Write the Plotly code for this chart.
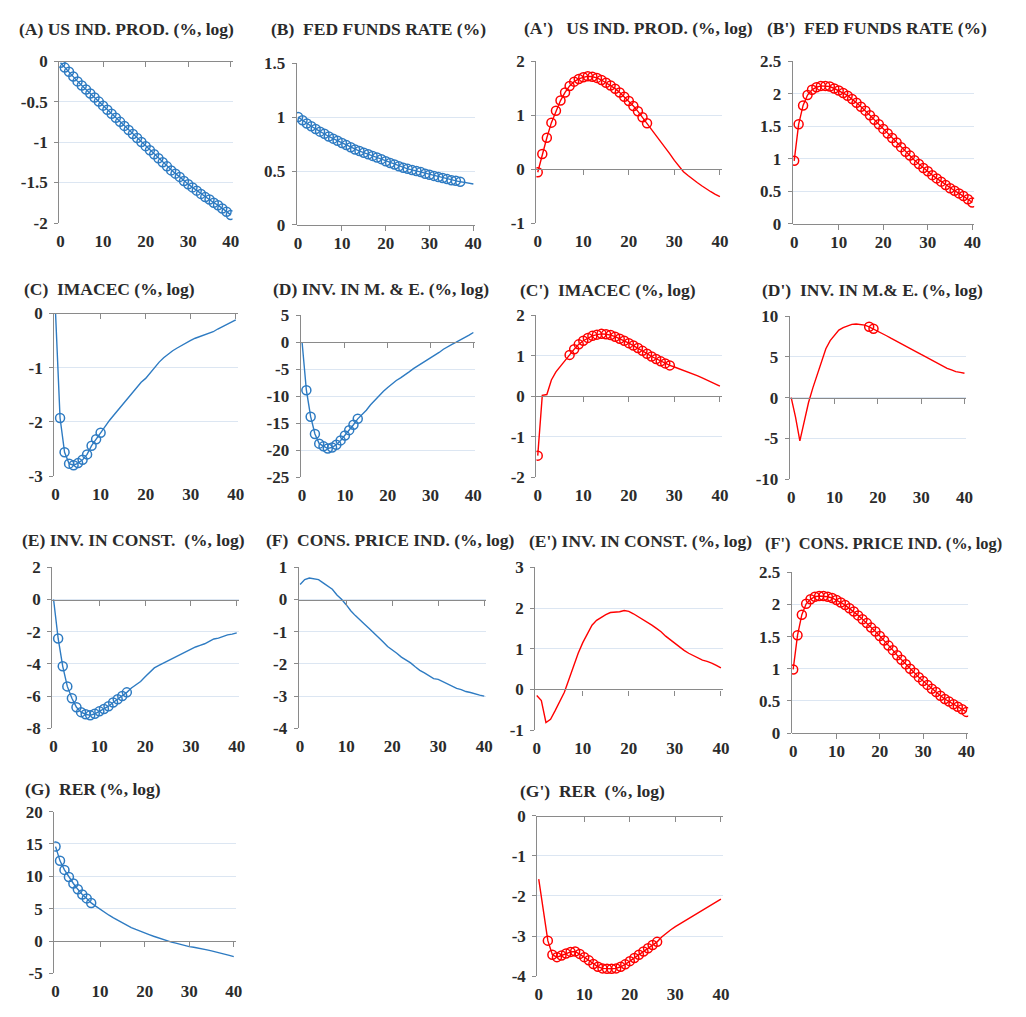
import plotly.graph_objects as go

# ---------------- data ----------------
horizon = list(range(41))
x_ticks = [0, 10, 20, 30, 40]

# (A) US industrial production (blue)
us_ip_blue = [-0.02, -0.08, -0.13, -0.19, -0.25, -0.30, -0.35, -0.40, -0.45, -0.50,
              -0.55, -0.60, -0.65, -0.70, -0.75, -0.80, -0.85, -0.90, -0.95, -1.00,
              -1.05, -1.10, -1.15, -1.20, -1.25, -1.30, -1.35, -1.39, -1.43, -1.48,
              -1.52, -1.56, -1.60, -1.64, -1.68, -1.71, -1.75, -1.78, -1.82, -1.86, -1.90]
us_ip_blue_sig = list(range(0, 41))
us_ip_blue_yticks = [0, -0.5, -1, -1.5, -2]

# (B) Fed funds rate (blue)
ffr_blue = [1.00, 0.97, 0.94, 0.915, 0.89, 0.865, 0.845, 0.82, 0.80, 0.78,
            0.76, 0.74, 0.72, 0.70, 0.685, 0.67, 0.655, 0.64, 0.625, 0.61,
            0.59, 0.575, 0.56, 0.545, 0.53, 0.52, 0.51, 0.50, 0.49, 0.475,
            0.465, 0.455, 0.445, 0.435, 0.425, 0.415, 0.41, 0.40, 0.395, 0.39, 0.38]
ffr_blue_sig = list(range(0, 38))
ffr_blue_yticks = [0, 0.5, 1, 1.5]

# (A') US industrial production (red)
us_ip_red = [-0.06, 0.28, 0.58, 0.86, 1.08, 1.27, 1.42, 1.54, 1.62, 1.67,
             1.70, 1.72, 1.71, 1.69, 1.65, 1.60, 1.55, 1.49, 1.42, 1.34,
             1.26, 1.17, 1.07, 0.96, 0.85, 0.74, 0.63, 0.52, 0.40, 0.28,
             0.16, 0.05, -0.05, -0.12, -0.19, -0.25, -0.31, -0.37, -0.42, -0.47, -0.51]
us_ip_red_sig = list(range(0, 25))
us_ip_red_yticks = [-1, 0, 1, 2]

# (B') Fed funds rate (red)
ffr_red = [0.97, 1.53, 1.82, 1.98, 2.06, 2.10, 2.12, 2.12, 2.11, 2.08,
           2.05, 2.01, 1.97, 1.92, 1.86, 1.80, 1.74, 1.67, 1.60, 1.53,
           1.46, 1.39, 1.32, 1.25, 1.18, 1.11, 1.05, 0.98, 0.92, 0.86,
           0.81, 0.75, 0.70, 0.65, 0.60, 0.55, 0.51, 0.47, 0.43, 0.38, 0.33]
ffr_red_sig = list(range(0, 41))
ffr_red_yticks = [0, 0.5, 1, 1.5, 2, 2.5]

# (C) IMACEC (blue)
imacec_blue = [0.0, -1.93, -2.56, -2.77, -2.80, -2.76, -2.70, -2.60, -2.44, -2.32,
               -2.20, -2.08, -1.97, -1.87, -1.77, -1.67, -1.57, -1.45, -1.35, -1.27,
               -1.20, -1.10, -0.99, -0.90, -0.82, -0.75, -0.69, -0.64, -0.59, -0.54,
               -0.50, -0.46, -0.43, -0.40, -0.37, -0.34, -0.29, -0.25, -0.21, -0.17, -0.12]
imacec_blue_sig = list(range(1, 11))
imacec_blue_yticks = [0, -1, -2, -3]

# (D) Investment in machinery & equipment (blue)
inv_me_blue = [0.0, -8.9, -13.8, -17.0, -18.8, -19.3, -19.7, -19.5, -19.0, -18.2,
               -17.3, -16.3, -15.3, -14.2, -13.4, -12.6, -11.6, -10.7, -9.9, -9.1,
               -8.4, -7.7, -7.1, -6.6, -6.1, -5.5, -4.9, -4.4, -3.9, -3.4,
               -3.0, -2.5, -1.9, -1.3, -0.8, -0.4, 0.0, 0.4, 0.8, 1.3, 1.8]
inv_me_blue_sig = list(range(1, 14))
inv_me_blue_yticks = [5, 0, -5, -10, -15, -20, -25]

# (C') IMACEC (red)
imacec_red = [-1.47, 0.02, 0.04, 0.40, 0.60, 0.75, 0.88, 1.02, 1.16, 1.28,
              1.37, 1.44, 1.49, 1.52, 1.54, 1.53, 1.51, 1.47, 1.42, 1.37,
              1.31, 1.25, 1.19, 1.12, 1.05, 0.98, 0.92, 0.86, 0.81, 0.76,
              0.72, 0.68, 0.64, 0.60, 0.56, 0.51, 0.46, 0.41, 0.36, 0.31, 0.25]
imacec_red_sig = [0] + list(range(7, 30))
imacec_red_yticks = [-2, -1, 0, 1, 2]

# (D') Investment in machinery & equipment (red)
inv_me_red = [0.0, -2.4, -5.3, -2.9, -0.6, 1.2, 2.9, 4.5, 6.0, 7.0,
              7.7, 8.3, 8.6, 8.85, 9.0, 9.05, 9.0, 8.9, 8.7, 8.45,
              8.2, 7.9, 7.6, 7.3, 7.0, 6.8, 6.5, 6.2, 5.9, 5.6,
              5.3, 5.0, 4.7, 4.4, 4.1, 3.8, 3.6, 3.4, 3.2, 3.1, 3.0]
inv_me_red_sig = [18, 19]
inv_me_red_yticks = [-10, -5, 0, 5, 10]

# (E) Investment in construction (blue)
inv_con_blue = [0.0, -2.42, -4.15, -5.4, -6.14, -6.7, -7.0, -7.13, -7.2, -7.1,
                -6.95, -6.8, -6.63, -6.4, -6.2, -6.0, -5.77, -5.5, -5.3, -5.1,
                -4.8, -4.5, -4.25, -4.1, -3.95, -3.85, -3.7, -3.55, -3.35, -3.2,
                -3.1, -2.95, -2.85, -2.75, -2.6, -2.45, -2.4, -2.3, -2.2, -2.15, -2.07]
inv_con_blue_sig = list(range(1, 17))
inv_con_blue_yticks = [2, 0, -2, -4, -6, -8]

# (F) Consumer price index (blue)
cpi_blue = [0.47, 0.62, 0.67, 0.64, 0.62, 0.52, 0.42, 0.32, 0.14, 0.01,
            -0.16, -0.35, -0.50, -0.65, -0.77, -0.90, -1.03, -1.16, -1.31, -1.46,
            -1.56, -1.67, -1.79, -1.87, -1.97, -2.09, -2.20, -2.28, -2.38, -2.46,
            -2.48, -2.55, -2.63, -2.70, -2.76, -2.80, -2.86, -2.89, -2.94, -2.97, -3.00]
cpi_blue_sig = []
cpi_blue_yticks = [1, 0, -1, -2, -3, -4]

# (E') Investment in construction (red)
inv_con_red = [-0.15, -0.27, -0.81, -0.73, -0.52, -0.31, -0.07, 0.25, 0.57, 0.89,
               1.15, 1.38, 1.58, 1.70, 1.78, 1.84, 1.89, 1.90, 1.91, 1.94,
               1.92, 1.86, 1.79, 1.74, 1.66, 1.58, 1.50, 1.42, 1.31, 1.22,
               1.12, 1.04, 0.96, 0.89, 0.83, 0.77, 0.72, 0.69, 0.65, 0.59, 0.53]
inv_con_red_sig = []
inv_con_red_yticks = [-1, 0, 1, 2, 3]

# (F') Consumer price index (red)
cpi_red = [0.99, 1.52, 1.84, 2.01, 2.08, 2.12, 2.13, 2.13, 2.12, 2.10,
           2.07, 2.03, 1.99, 1.94, 1.89, 1.83, 1.77, 1.71, 1.64, 1.58,
           1.51, 1.44, 1.36, 1.29, 1.21, 1.14, 1.07, 1.00, 0.94, 0.87,
           0.81, 0.75, 0.69, 0.64, 0.58, 0.53, 0.49, 0.45, 0.41, 0.37, 0.33]
cpi_red_sig = list(range(0, 41))
cpi_red_yticks = [0, 0.5, 1, 1.5, 2, 2.5]

# (G) Real exchange rate (blue)
rer_blue = [14.6, 12.4, 11.0, 9.9, 8.9, 8.0, 7.2, 6.6, 5.9, 5.4,
            4.9, 4.4, 4.0, 3.6, 3.2, 2.8, 2.4, 2.1, 1.8, 1.5,
            1.25, 1.0, 0.75, 0.5, 0.25, 0.0, -0.15, -0.3, -0.5, -0.7,
            -0.85, -0.95, -1.05, -1.2, -1.35, -1.5, -1.65, -1.8, -2.0, -2.2, -2.4]
rer_blue_sig = list(range(0, 9))
rer_blue_yticks = [20, 15, 10, 5, 0, -5]

# (G') Real exchange rate (red)
rer_red = [-1.58, -2.4, -3.11, -3.46, -3.52, -3.48, -3.43, -3.39, -3.38, -3.44,
           -3.52, -3.60, -3.69, -3.76, -3.80, -3.81, -3.81, -3.80, -3.76, -3.70,
           -3.62, -3.54, -3.46, -3.38, -3.30, -3.22, -3.14, -3.02, -2.92, -2.84,
           -2.76, -2.69, -2.62, -2.55, -2.49, -2.42, -2.36, -2.29, -2.22, -2.15, -2.08]
rer_red_sig = list(range(2, 27))
rer_red_yticks = [0, -1, -2, -3, -4]

# ---------------- styling / layout ----------------
BLUE = "#2E7BC2"
RED = "#FF0000"
AXIS = "#8A8A8A"
GRID = "#DCE6F2"
TXT = "#2B2B2B"
FONT = "Liberation Serif"
OFF = 8                       # default page (body) margin
W, H = 1026 - 2 * OFF, 1017 - 2 * OFF
XR = [-0.3, 40.4]
NB = "\u00a0"

# title, values, significant horizons, y ticks, color,
# geometry in page px: x of h=0, x of h=40, y of top tick, y of bottom tick, title x, title y, title size
panels = [
    ("(A) US IND. PROD. (%, log)", us_ip_blue, us_ip_blue_sig, us_ip_blue_yticks, BLUE, (58, 230, 53, 218, 14, 20, 17.5)),
    ("(B)" + NB * 2 + "FED FUNDS RATE (%)", ffr_blue, ffr_blue_sig, ffr_blue_yticks, BLUE, (298, 475, 55, 220, 269, 20, 17.5)),
    ("(A')" + NB * 3 + "US IND. PROD. (%, log)", us_ip_red, us_ip_red_sig, us_ip_red_yticks, RED, (540, 724, 53, 218, 524, 19, 17.5)),
    ("(B')" + NB * 2 + "FED FUNDS RATE (%)", ffr_red, ffr_red_sig, ffr_red_yticks, RED, (799, 979, 53, 219, 770, 19, 17.5)),
    ("(C)" + NB * 2 + "IMACEC (%, log)", imacec_blue, imacec_blue_sig, imacec_blue_yticks, BLUE, (53, 235, 310, 476, 19, 285, 17.5)),
    ("(D) INV. IN M. &amp; E. (%, log)", inv_me_blue, inv_me_blue_sig, inv_me_blue_yticks, BLUE, (302, 475, 312, 477, 271, 285, 17.5)),
    ("(C')" + NB * 2 + "IMACEC (%, log)", imacec_red, imacec_red_sig, imacec_red_yticks, RED, (540, 724, 312, 477, 520, 286, 17.5)),
    ("(D')" + NB * 2 + "INV. IN M.&amp; E. (%, log)", inv_me_red, inv_me_red_sig, inv_me_red_yticks, RED, (796, 971, 313, 479, 764, 286, 17.5)),
    ("(E) INV. IN CONST." + NB * 2 + "(%, log)", inv_con_blue, inv_con_blue_sig, inv_con_blue_yticks, BLUE, (51, 236, 569, 733, 17, 541, 17.5)),
    ("(F)" + NB * 2 + "CONS. PRICE IND. (%, log)", cpi_blue, cpi_blue_sig, cpi_blue_yticks, BLUE, (300, 486, 569, 733, 264, 541, 17.5)),
    ("(E') INV. IN CONST. (%, log)", inv_con_red, inv_con_red_sig, inv_con_red_yticks, RED, (539, 725, 569, 735, 529, 542, 17.5)),
    ("(F')" + NB * 2 + "CONS. PRICE IND. (%, log)", cpi_red, cpi_red_sig, cpi_red_yticks, RED, (798, 973, 574, 738, 768, 545, 16.4)),
    ("(G)" + NB * 2 + "RER (%, log)", rer_blue, rer_blue_sig, rer_blue_yticks, BLUE, (53, 233, 818, 983, 20, 795, 17.5)),
    ("(G')" + NB * 2 + "RER" + NB * 2 + "(%, log)", rer_red, rer_red_sig, rer_red_yticks, RED, (541, 725, 822, 986, 520, 797, 17.5)),
]


def fmt(v):
    return f"{v:g}"


def axname(prefix, n):
    return prefix if n == 1 else f"{prefix}{n}"


def px_x(p):
    return (p - OFF) / W


def px_y(p):
    return 1 - (p - OFF) / H


fig = go.Figure()
layout = {}
annotations = []
tickfont = dict(family=FONT, size=17, color=TXT, weight="bold")

for k, (title, vals, sig, yticks, color, geo) in enumerate(panels, start=1):
    x0, x40, ytop, ybot, tx, ty, tsize = geo
    ppu = (x40 - x0) / 40.0
    left = x0 + XR[0] * ppu
    right = x0 + XR[1] * ppu
    ymin, ymax = min(yticks), max(yticks)

    xm = axname("x", 2 * k - 1)
    xo = axname("x", 2 * k)
    yy = axname("y", k)

    fig.add_trace(go.Scatter(x=horizon, y=vals, mode="lines",
                             line=dict(color=color, width=1.4),
                             xaxis=xm, yaxis=yy, showlegend=False, hoverinfo="skip"))
    fig.add_trace(go.Scatter(x=[horizon[i] for i in sig], y=[vals[i] for i in sig],
                             mode="markers",
                             marker=dict(symbol="circle-open", size=9, color=color,
                                         line=dict(width=1.5, color=color)),
                             xaxis=xo, yaxis=yy, showlegend=False, hoverinfo="skip"))

    dom_x = [px_x(left), px_x(right)]
    dom_y = [px_y(ybot), px_y(ytop)]
    zero_frac = (0 - ymin) / (ymax - ymin)
    zero_pos = dom_y[0] + zero_frac * (dom_y[1] - dom_y[0])

    layout[axname("xaxis", 2 * k - 1)] = dict(
        domain=dom_x, range=XR, anchor=yy, tickvals=x_ticks,
        ticktext=[fmt(v) for v in x_ticks],
        showline=False, showgrid=False, zeroline=False, ticks="",
        tickfont=tickfont, ticklabelstandoff=6, fixedrange=True)
    layout[axname("xaxis", 2 * k)] = dict(
        overlaying=xm, anchor="free", position=zero_pos, range=XR,
        tickvals=x_ticks[1:], showticklabels=False, showline=True,
        linecolor=AXIS, linewidth=1.3, ticks="outside", ticklen=5,
        tickcolor=AXIS, tickwidth=1.3, showgrid=False, zeroline=False, fixedrange=True)
    layout[axname("yaxis", k)] = dict(
        domain=dom_y, range=[ymin, ymax], anchor=xm, tickvals=yticks,
        ticktext=[fmt(v) for v in yticks],
        showline=True, linecolor=AXIS, linewidth=1.3, ticks="outside", ticklen=4,
        tickcolor=AXIS, tickwidth=1.3, showgrid=True, gridcolor=GRID, gridwidth=1,
        zeroline=False, tickfont=tickfont, ticklabelstandoff=3, fixedrange=True)

    annotations.append(dict(text=title, x=px_x(tx), y=px_y(ty), xref="paper", yref="paper",
                            xanchor="left", yanchor="middle", showarrow=False,
                            font=dict(family=FONT, size=tsize, color=TXT, weight="bold")))

fig.update_layout(**layout)
fig.update_layout(width=W, height=H, autosize=False,
                  margin=dict(l=0, r=0, t=0, b=0),
                  paper_bgcolor="white", plot_bgcolor="white",
                  annotations=annotations, showlegend=False)

fig.write_html("out.html")
